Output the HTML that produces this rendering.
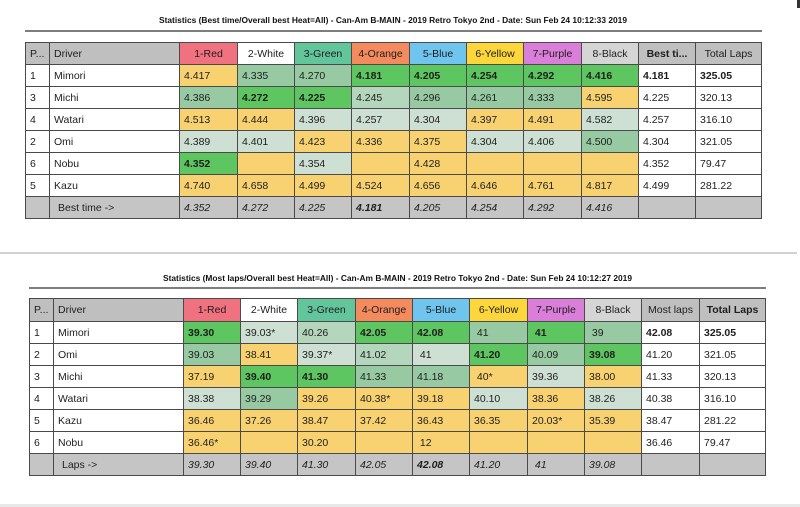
<!DOCTYPE html>
<html><head><meta charset="utf-8">
<style>
html,body{margin:0;padding:0;}
body{width:800px;height:507px;position:relative;overflow:hidden;background:#fff;font-family:"Liberation Sans",Arial,sans-serif;}
.t{position:absolute;display:grid;background:#4a4a4a;gap:1px;padding:1px;}
.t>div{display:flex;align-items:center;padding-left:4px;white-space:nowrap;overflow:hidden;font-size:10.5px;color:#1e1e1e;background:#fff;}
.t>div.c{justify-content:center;padding-left:0;}
.b{font-weight:bold;}
.i{font-style:italic;}
.h{background:#bfbfbf !important;}
.y{background:#f8d271 !important;}
.g{background:#5ec661 !important;}
.m{background:#97caa2 !important;}
.l{background:#cde0d3 !important;}
.l2{background:#b4d6bc !important;}
.gr{background:#c5c5c5 !important;}
.hr{background:#f0717f !important;}
.hg{background:#63c59b !important;}
.ho{background:#f48b5e !important;}
.hb{background:#70c5ee !important;}
.hy{background:#fdd63c !important;}
.hp{background:#da7ed9 !important;}
.hk{background:#d5d5d5 !important;}
.ind{padding-left:8px !important;}
#t1{left:25px;top:42px;grid-template-columns:23px 129px 57px 56px 56px 57px 56px 56px 57px 56px 56px 65px;grid-template-rows:repeat(8,21px);}
#t2{left:29px;top:298px;grid-template-columns:23px 129px 56px 56px 57px 56px 56px 57px 56px 56px 57px 65px;grid-template-rows:22px repeat(7,21px);}
.line{position:absolute;height:2px;background:#7d7d7d;}
</style></head><body>
<svg width="800" height="507" style="position:absolute;left:0;top:0">
<text x="159" y="23" font-family="Liberation Sans, Arial, sans-serif" font-weight="bold" font-size="8" fill="#111" textLength="468" lengthAdjust="spacingAndGlyphs">Statistics (Best time/Overall best Heat=All) - Can-Am B-MAIN - 2019 Retro Tokyo 2nd - Date: Sun Feb 24 10:12:33 2019</text>
<text x="163" y="281" font-family="Liberation Sans, Arial, sans-serif" font-weight="bold" font-size="8" fill="#111" textLength="469" lengthAdjust="spacingAndGlyphs">Statistics (Most laps/Overall best Heat=All) - Can-Am B-MAIN - 2019 Retro Tokyo 2nd - Date: Sun Feb 24 10:12:27 2019</text>
</svg>
<div class="line" style="left:25px;top:30px;width:737px;"></div>
<div class="line" style="left:29px;top:287px;width:737px;"></div>
<div style="position:absolute;left:0;top:252px;width:797px;height:2px;background:#d2d2d2;"></div>
<div style="position:absolute;left:0;top:504px;width:800px;height:3px;background:#e8e8e8;"></div>
<div style="position:absolute;left:797px;top:0;width:3px;height:8px;background:#333;"></div>

<div class="t" id="t1">
<div class="h">P...</div><div class="h">Driver</div><div class="c hr">1-Red</div><div class="c">2-White</div><div class="c hg">3-Green</div><div class="c ho">4-Orange</div><div class="c hb">5-Blue</div><div class="c hy">6-Yellow</div><div class="c hp">7-Purple</div><div class="c hk">8-Black</div><div class="c h b">Best ti...</div><div class="c h">Total Laps</div>

<div>1</div><div>Mimori</div><div class="y">4.417</div><div class="m">4.335</div><div class="m">4.270</div><div class="g b">4.181</div><div class="g b">4.205</div><div class="g b">4.254</div><div class="g b">4.292</div><div class="g b">4.416</div><div class="b">4.181</div><div class="b">325.05</div>

<div>3</div><div>Michi</div><div class="m">4.386</div><div class="g b">4.272</div><div class="g b">4.225</div><div class="l2">4.245</div><div class="m">4.296</div><div class="m">4.261</div><div class="m">4.333</div><div class="y">4.595</div><div>4.225</div><div>320.13</div>

<div>4</div><div>Watari</div><div class="y">4.513</div><div class="y">4.444</div><div class="l">4.396</div><div class="l">4.257</div><div class="l">4.304</div><div class="y">4.397</div><div class="y">4.491</div><div class="l">4.582</div><div>4.257</div><div>316.10</div>

<div>2</div><div>Omi</div><div class="l">4.389</div><div class="l">4.401</div><div class="y">4.423</div><div class="y">4.336</div><div class="y">4.375</div><div class="l">4.304</div><div class="l">4.406</div><div class="m">4.500</div><div>4.304</div><div>321.05</div>

<div>6</div><div>Nobu</div><div class="g b">4.352</div><div class="y"></div><div class="l">4.354</div><div class="y"></div><div class="y">4.428</div><div class="y"></div><div class="y"></div><div class="y"></div><div>4.352</div><div>79.47</div>

<div>5</div><div>Kazu</div><div class="y">4.740</div><div class="y">4.658</div><div class="y">4.499</div><div class="y">4.524</div><div class="y">4.656</div><div class="y">4.646</div><div class="y">4.761</div><div class="y">4.817</div><div>4.499</div><div>281.22</div>

<div class="gr"></div><div class="gr ind">Best time -&gt;</div><div class="gr i">4.352</div><div class="gr i">4.272</div><div class="gr i">4.225</div><div class="gr i b">4.181</div><div class="gr i">4.205</div><div class="gr i">4.254</div><div class="gr i">4.292</div><div class="gr i">4.416</div><div class="gr"></div><div class="gr"></div>
</div>

<div class="t" id="t2">
<div class="h">P...</div><div class="h">Driver</div><div class="c hr">1-Red</div><div class="c">2-White</div><div class="c hg">3-Green</div><div class="c ho">4-Orange</div><div class="c hb">5-Blue</div><div class="c hy">6-Yellow</div><div class="c hp">7-Purple</div><div class="c hk">8-Black</div><div class="c h">Most laps</div><div class="c h b">Total Laps</div>

<div>1</div><div>Mimori</div><div class="g b">39.30</div><div class="l">39.03*</div><div class="l2">40.26</div><div class="g b">42.05</div><div class="g b">42.08</div><div class="m">&nbsp;41</div><div class="g b">&nbsp;41</div><div class="m">&nbsp;39</div><div class="b">42.08</div><div class="b">325.05</div>

<div>2</div><div>Omi</div><div class="m">39.03</div><div class="y">38.41</div><div class="l">39.37*</div><div class="l2">41.02</div><div class="l">&nbsp;41</div><div class="g b">41.20</div><div class="m">40.09</div><div class="g b">39.08</div><div>41.20</div><div>321.05</div>

<div>3</div><div>Michi</div><div class="y">37.19</div><div class="g b">39.40</div><div class="g b">41.30</div><div class="m">41.33</div><div class="m">41.18</div><div class="y">&nbsp;40*</div><div class="l">39.36</div><div class="y">38.00</div><div>41.33</div><div>320.13</div>

<div>4</div><div>Watari</div><div class="l">38.38</div><div class="m">39.29</div><div class="y">39.26</div><div class="y">40.38*</div><div class="y">39.18</div><div class="l">40.10</div><div class="y">38.36</div><div class="l">38.26</div><div>40.38</div><div>316.10</div>

<div>5</div><div>Kazu</div><div class="y">36.46</div><div class="y">37.26</div><div class="y">38.47</div><div class="y">37.42</div><div class="y">36.43</div><div class="y">36.35</div><div class="y">20.03*</div><div class="y">35.39</div><div>38.47</div><div>281.22</div>

<div>6</div><div>Nobu</div><div class="y">36.46*</div><div class="y"></div><div class="y">30.20</div><div class="y"></div><div class="y">&nbsp;12</div><div class="y"></div><div class="y"></div><div class="y"></div><div>36.46</div><div>79.47</div>

<div class="gr"></div><div class="gr ind">Laps -&gt;</div><div class="gr i">39.30</div><div class="gr i">39.40</div><div class="gr i">41.30</div><div class="gr i">42.05</div><div class="gr i b">42.08</div><div class="gr i">41.20</div><div class="gr i">&nbsp;41</div><div class="gr i">39.08</div><div class="gr"></div><div class="gr"></div>
</div>
</body></html>
